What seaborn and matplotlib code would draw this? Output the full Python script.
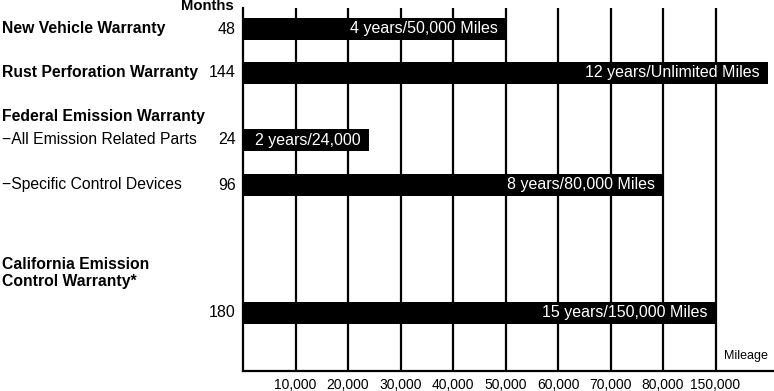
import numpy as np
import pandas as pd
import matplotlib
matplotlib.use("Agg")
import matplotlib.pyplot as plt
import seaborn as sns

# ---------------- data ----------------
categories = ["New Vehicle Warranty", "Rust Perforation Warranty",
              "\u2212All Emission Related Parts", "\u2212Specific Control Devices",
              "California Emission\nControl Warranty*"]
months = [48, 144, 24, 96, 180]
miles = [50000, np.inf, 24000, 80000, 150000]          # inf = unlimited
bar_labels = ["4 years/50,000 Miles", "12 years/Unlimited Miles",
              "2 years/24,000", "8 years/80,000 Miles", "15 years/150,000 Miles"]
tick_miles = [10000, 20000, 30000, 40000, 50000, 60000, 70000, 80000, 150000]
tick_labels = ["10,000", "20,000", "30,000", "40,000", "50,000",
               "60,000", "70,000", "80,000", "150,000"]
group_header = "Federal Emission Warranty"

# ---------------- layout (figure pixels from top) ----------------
W, H = 774, 391
row_y = [29, 72.5, 140, 185, 312.5]
label_y = [29, 72.5, 140, 185, 273]
label_bold = [True, True, False, False, True]
header_y = 117
ax_left, ax_top, ax_bottom = 243, 8, 371

sns.set_theme(style="white")
plt.rcParams["font.family"] = ["Liberation Sans", "DejaVu Sans"]

fig = plt.figure(figsize=(W / 100, H / 100), dpi=100)
ax = fig.add_axes([ax_left / W, (H - ax_bottom) / H, 1 - ax_left / W,
                   (ax_bottom - ax_top) / H])

# mileage -> slot position on the (non-linear) axis
slots = np.arange(len(tick_miles) + 1)
def to_slot(m):
    if np.isinf(m):
        return len(tick_miles) + 1
    return float(np.interp(m, [0] + tick_miles, slots))

df = pd.DataFrame({"slot": [to_slot(m) for m in miles], "row": row_y})
min_gap = np.min(np.diff(sorted(row_y)))
sns.barplot(data=df, x="slot", y="row", orient="y", native_scale=True,
            color="black", saturation=1, errorbar=None, linewidth=0,
            edgecolor="black", width=22 / min_gap, ax=ax, zorder=3)

ax.set_xlim(0, (W - ax_left) / ((W - ax_left - 6) / (len(tick_miles) + 1)))
ax.set_ylim(ax_bottom, ax_top)

# grid / spines
ax.set_xticks(slots[1:])
ax.set_xticklabels(tick_labels, fontsize=10, color="black")
ax.set_yticks([])
ax.set_xlabel("")
ax.set_ylabel("")
ax.tick_params(axis="x", length=0, pad=5)
ax.grid(axis="x", color="black", linewidth=1.6)
ax.grid(axis="y", visible=False)
ax.set_axisbelow(True)
for s in ["top", "right"]:
    ax.spines[s].set_visible(False)
for s in ["left", "bottom"]:
    ax.spines[s].set_color("black")
    ax.spines[s].set_linewidth(1.6)

# bar value labels (white, right-aligned inside bar end)
bars = sorted(ax.patches, key=lambda p: p.get_y())
order = np.argsort(row_y)
for p, i in zip(bars, order):
    ax.annotate(bar_labels[i], xy=(p.get_x() + p.get_width(), p.get_y() + p.get_height() / 2),
                xytext=(-8, 0), textcoords="offset pixels", ha="right", va="center",
                color="white", fontsize=11.5, zorder=4)

# left labels
for lab, y, b, m, ry in zip(categories, label_y, label_bold, months, row_y):
    ax.annotate(lab, xy=(2, y), xycoords=("figure pixels", "data"), ha="left",
                va="center", fontsize=11.3, fontweight="bold" if b else "normal",
                color="black", annotation_clip=False)
    ax.annotate(str(m), xy=(236, ry), xycoords=("figure pixels", "data"), ha="right",
                va="center", fontsize=11.5, color="black", annotation_clip=False)
ax.annotate(group_header, xy=(2, header_y), xycoords=("figure pixels", "data"),
            ha="left", va="center", fontsize=11.3, fontweight="bold", color="black",
            annotation_clip=False)
fig.text(234 / W, 1 - 6 / H, "Months", ha="right", va="center", fontsize=10.7,
         fontweight="bold", color="black")
ax.text(0.989, 0.04, "Mileage", transform=ax.transAxes, ha="right", va="center",
        fontsize=9, color="black")

fig.savefig("out.png", dpi=100)
